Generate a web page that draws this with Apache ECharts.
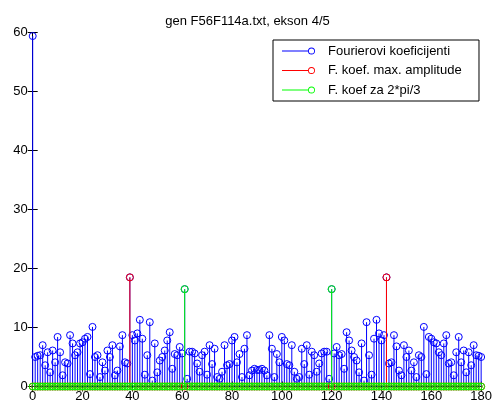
<!DOCTYPE html>
<html>
<head>
<meta charset="utf-8">
<script src="https://cdn.jsdelivr.net/npm/echarts@6/dist/echarts.min.js"></script>
<style>
html,body{margin:0;padding:0;background:#fff;}
#c{width:495px;height:403px;}
</style>
</head>
<body>
<div id="c"></div>
<script>
// Fourier coefficient magnitudes, index 0..180
var fourier = [
59.4, 5.0, 5.2, 5.3, 7.0, 3.6, 5.8, 2.4, 6.1, 4.1,
8.4, 5.8, 1.9, 4.1, 3.9, 8.7, 7.3, 5.3, 5.8, 7.3,
7.5, 8.1, 8.4, 2.1, 10.1, 5.0, 5.3, 1.6, 4.1, 2.7,
6.1, 5.0, 7.0, 1.9, 2.7, 6.8, 8.7, 4.1, 3.9, 18.5,
8.7, 7.8, 9.0, 11.3, 8.1, 2.0, 5.3, 10.9, 1.0, 7.3,
2.4, 4.4, 5.0, 6.1, 7.8, 9.2, 3.0, 5.5, 5.3, 6.7,
5.6, 16.5, 1.3, 5.9, 5.9, 5.6, 3.9, 2.5, 5.3, 5.9,
2.0, 7.0, 3.8, 6.4, 1.6, 1.3, 2.5, 7.0, 3.6, 3.8,
7.8, 8.4, 4.1, 5.5, 1.6, 6.4, 8.7, 1.9, 2.7, 3.0,
2.8, 2.8, 3.0, 2.7, 1.9, 8.7, 6.4, 1.6, 5.5, 4.1,
8.4, 7.8, 3.8, 3.6, 7.0, 2.5, 1.3, 1.6, 6.4, 3.8,
7.0, 2.0, 5.9, 5.3, 2.5, 3.9, 5.6, 5.9, 5.9, 1.3,
16.5, 5.6, 6.7, 5.3, 5.5, 3.0, 9.2, 7.8, 6.1, 5.0,
4.4, 2.4, 7.3, 1.0, 10.9, 5.3, 2.0, 8.1, 11.3, 9.0,
7.8, 8.7, 18.5, 3.9, 4.1, 8.7, 6.8, 2.7, 1.9, 7.0,
5.0, 6.1, 2.7, 4.1, 1.6, 5.3, 5.0, 10.1, 2.1, 8.4,
8.1, 7.5, 7.3, 5.8, 5.3, 7.3, 8.7, 3.9, 4.1, 1.9,
5.8, 8.4, 4.1, 6.1, 2.4, 5.8, 3.6, 7.0, 5.3, 5.2,
5.0
];
// max amplitude coefficients (zero elsewhere)
var maxAmp = [
0,0,0,0,0,0,0,0,0,0, 0,0,0,0,0,0,0,0,0,0,
0,0,0,0,0,0,0,0,0,0, 0,0,0,0,0,0,0,0,0,18.5,
0,0,0,0,0,0,0,0,0,0, 0,0,0,0,0,0,0,0,0,0,
0,0,0,0,0,0,0,0,0,0, 0,0,0,0,0,0,0,0,0,0,
0,0,0,0,0,0,0,0,0,0, 0,0,0,0,0,0,0,0,0,0,
0,0,0,0,0,0,0,0,0,0, 0,0,0,0,0,0,0,0,0,0,
0,0,0,0,0,0,0,0,0,0, 0,0,0,0,0,0,0,0,0,0,
0,0,18.5,0,0,0,0,0,0,0, 0,0,0,0,0,0,0,0,0,0,
0,0,0,0,0,0,0,0,0,0, 0,0,0,0,0,0,0,0,0,0,
0
];
// coefficients for 2*pi/3 (zero elsewhere)
var twoPiThird = [
0,0,0,0,0,0,0,0,0,0, 0,0,0,0,0,0,0,0,0,0,
0,0,0,0,0,0,0,0,0,0, 0,0,0,0,0,0,0,0,0,0,
0,0,0,0,0,0,0,0,0,0, 0,0,0,0,0,0,0,0,0,0,
0,16.5,0,0,0,0,0,0,0,0, 0,0,0,0,0,0,0,0,0,0,
0,0,0,0,0,0,0,0,0,0, 0,0,0,0,0,0,0,0,0,0,
0,0,0,0,0,0,0,0,0,0, 0,0,0,0,0,0,0,0,0,0,
16.5,0,0,0,0,0,0,0,0,0, 0,0,0,0,0,0,0,0,0,0,
0,0,0,0,0,0,0,0,0,0, 0,0,0,0,0,0,0,0,0,0,
0,0,0,0,0,0,0,0,0,0, 0,0,0,0,0,0,0,0,0,0,
0
];
var seriesNames = ['Fourierovi koeficijenti', 'F. koef. max. amplitude', 'F. koef za 2*pi/3'];
var seriesColors = ['#0000ff', '#ff0000', '#00ff00'];
var titleText = 'gen F56F114a.txt, ekson 4/5';

function toPairs(arr) { return arr.map(function (v, i) { return [i, v]; }); }

function stemRenderer(color) {
  return function (params, api) {
    var x = api.value(0), y = api.value(1);
    var p0 = api.coord([x, 0]);
    var p1 = api.coord([x, y]);
    return {
      type: 'group',
      children: [
        { type: 'line', shape: { x1: p0[0], y1: p0[1], x2: p1[0], y2: p1[1] },
          style: { stroke: color, lineWidth: 1 } },
        { type: 'circle', shape: { cx: p1[0], cy: p1[1], r: 3.5 },
          style: { fill: null, stroke: color, lineWidth: 1 } }
      ]
    };
  };
}

var legendIcon = 'path://M0 3.5 L26 3.5 L26 4.5 L0 4.5 Z M29.5 0.5 A3.5 3.5 0 1 1 29.49 0.5 Z M29.5 1.4 A2.6 2.6 0 1 0 29.51 1.4 Z';

var chart = echarts.init(document.getElementById('c'), null, { renderer: 'canvas' });
var font = 'Liberation Sans, Arial, sans-serif';
var axisCommon = {
  type: 'value',
  axisLine: { show: true, lineStyle: { color: '#000', width: 1 } },
  axisTick: { show: true, inside: true, length: 5, lineStyle: { color: '#000' } },
  splitLine: { show: false }
};
chart.setOption({
  animation: false,
  backgroundColor: '#fff',
  title: {
    text: titleText, left: 'center', top: 10,
    textStyle: { fontFamily: font, fontSize: 13, fontWeight: 'normal', color: '#000' }
  },
  legend: {
    orient: 'vertical', left: 273, top: 40,
    padding: [4, 8, 4, 9],
    itemGap: 5.5, itemWidth: 33, itemHeight: 7,
    borderColor: '#000', borderWidth: 1, backgroundColor: '#fff',
    selectedMode: false,
    textStyle: { fontFamily: font, fontSize: 13, color: '#000', lineHeight: 14, padding: [0, 0, 0, 8], width: 143 },
    itemStyle: { borderWidth: 0 },
    data: seriesNames.map(function (n) { return { name: n, icon: legendIcon }; })
  },
  grid: { left: 32.7, right: 11.7, top: 32.5, bottom: 16.5 },
  xAxis: [
    Object.assign({}, axisCommon, { position: 'bottom', min: 0, max: 180, interval: 20,
      axisLabel: { fontFamily: font, fontSize: 13, color: '#000', margin: 3 } }),
    Object.assign({}, axisCommon, { position: 'top', min: 0, max: 180, interval: 20,
      axisLabel: { show: false } })
  ],
  yAxis: [
    Object.assign({}, axisCommon, { position: 'left', min: 0, max: 60, interval: 10,
      axisLabel: { fontFamily: font, fontSize: 13, color: '#000', margin: 5 } }),
    Object.assign({}, axisCommon, { position: 'right', min: 0, max: 60, interval: 10,
      axisLabel: { show: false } })
  ],
  series: [
    { name: seriesNames[0], type: 'custom', renderItem: stemRenderer(seriesColors[0]),
      itemStyle: { color: seriesColors[0] }, data: toPairs(fourier), silent: true, z: 2 },
    { name: seriesNames[1], type: 'custom', renderItem: stemRenderer(seriesColors[1]),
      itemStyle: { color: seriesColors[1] }, data: toPairs(maxAmp), silent: true, z: 3 },
    { name: seriesNames[2], type: 'custom', renderItem: stemRenderer(seriesColors[2]),
      itemStyle: { color: seriesColors[2] }, data: toPairs(twoPiThird), silent: true, z: 4 }
  ]
});
</script>
</body>
</html>
